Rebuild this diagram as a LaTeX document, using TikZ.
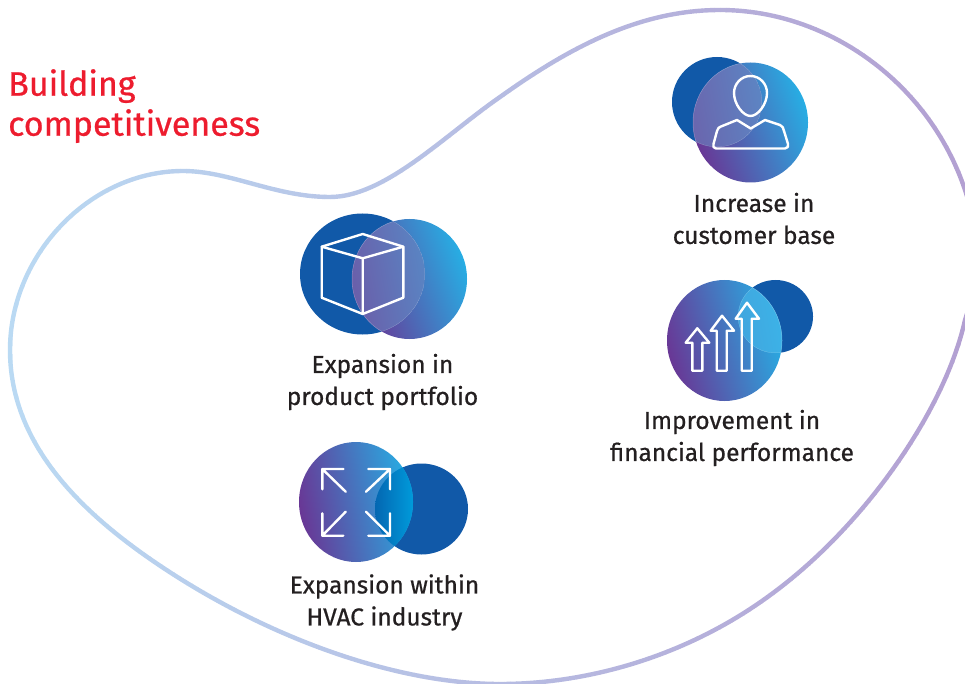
\documentclass[tikz,border=0pt]{standalone}
\usepackage{fontspec}
\setmainfont{Fira Sans}
\newfontfamily\labf{Fira Sans}[FakeBold=0.7]
\definecolor{dk}{HTML}{1159A8}
\definecolor{gp}{HTML}{693795}
\definecolor{gm}{HTML}{5A70B2}
\definecolor{gc}{HTML}{27AEE4}
\definecolor{redt}{HTML}{ED1C2E}
\definecolor{labt}{HTML}{231F20}
\definecolor{bl}{HTML}{BADAF3}
\definecolor{br}{HTML}{B3A0D2}
\definecolor{cubeL}{HTML}{6A5FAA}
\definecolor{cubeR}{HTML}{5198D0}
\definecolor{persL}{HTML}{6A66AE}
\definecolor{persR}{HTML}{5596CF}
\definecolor{arrL}{HTML}{4A90CE}
\definecolor{arrR}{HTML}{3CB2E7}
\definecolor{expL}{HTML}{0467B2}
\definecolor{expR}{HTML}{009BDB}
\tikzset{
 gradfill/.style={left color=gp,middle color=gm,right color=gc,shading angle=#1},
 icon/.style={draw=white,line width=2.4pt,line join=round,line cap=round},
 lab/.style={font=\labf\fontsize{24.5}{32}\selectfont,text=labt,align=center,inner sep=0pt},
 title/.style={font=\labf\fontsize{34}{40}\selectfont,text=redt,align=left,inner sep=0pt,anchor=north west},
 rim/.style={draw=white,draw opacity=.3,line width=.5pt}
}
\newcommand{\blobpath}{(10,350) .. controls (10,255) and (90,171) .. (183,171) .. controls (230,171) and (275,197) .. (330,197) .. controls (385,197) and (445,135) .. (500,97) .. controls (570,47) and (640,10) .. (720,10) .. controls (830,10) and (930,85) .. (965,190) .. controls (981,238) and (980,275) .. (965,320) .. controls (945,410) and (865,525) .. (773,593) .. controls (690,655) and (590,684) .. (500,684) .. controls (395,684) and (265,637) .. (156,563) .. controls (75,508) and (10,440) .. (10,350) -- cycle}
\begin{document}
\begin{tikzpicture}[x=1pt,y=-1pt]
\useasboundingbox (0,0) rectangle (965,684);
% blob with a horizontal colour ramp
\foreach \i in {0,6,...,960}{
 \pgfmathsetmacro{\p}{\i/9.65}
 \colorlet{cc}{br!\p!bl}
 \begin{scope}
  \clip (\i,0) rectangle (\i+6.4,684);
  \draw[cc,line width=4.4pt] \blobpath;
 \end{scope}
}
\node[title] (title) at (8,69) {Building\\competitiveness};
% cube
\fill[dk] (362.5,274) ellipse [x radius=62.5,y radius=60.5];
\shade[gradfill=110] (409.5,279) ellipse [x radius=57.5,y radius=60];
\begin{scope}
 \clip (362.5,274) ellipse [x radius=62.5,y radius=60.5];
 \shade[left color=cubeL,right color=cubeR,shading angle=100] (409.5,279) ellipse [x radius=57.5,y radius=60];
 \draw[rim] (409.5,279) ellipse [x radius=57.5,y radius=60];
 \begin{scope}
 \clip (409.5,279) ellipse [x radius=57.5,y radius=60];
 \draw[rim] (362.5,274) ellipse [x radius=62.5,y radius=60.5];
 \end{scope}
\end{scope}
\draw[icon] (362.7,234) -- (321.7,246.7) -- (321.7,297.7) -- (362.7,314) -- (403.3,297.7) -- (403.3,246.7) -- cycle;
\draw[icon] (321.7,246.7) -- (362.7,258.3) -- (403.3,246.7) (362.7,258.3) -- (362.7,314);
\node[lab] (l1) at (382.5,382) {Expansion in\\product portfolio};
% expand
\fill[dk] (421.5,509) ellipse [x radius=46.5,y radius=45.5];
\shade[gradfill=100] (356,502) ellipse [x radius=57,y radius=60];
\begin{scope}
 \clip (421.5,509) ellipse [x radius=46.5,y radius=45.5];
 \clip (356,502) ellipse [x radius=57,y radius=60];
 \shade[left color=expL,right color=expR,shading angle=90] (375,460) rectangle (413.5,560);
\end{scope}
\draw[icon] (343.3,469) -- (322.3,469) -- (322.3,489.3) (322.3,469) -- (345.7,491.7);
\draw[icon] (368.3,469) -- (390,469) -- (390,489.3) (390,469) -- (366,491.7);
\draw[icon] (343.3,535.7) -- (322.3,535.7) -- (322.3,513.3) (322.3,535.7) -- (345.7,511.7);
\draw[icon] (368.3,535.7) -- (390,535.7) -- (390,513.3) (390,535.7) -- (366,511.7);
\node[lab] (l2) at (384.5,602.5) {Expansion within\\HVAC industry};
% person
\fill[dk] (717,102) ellipse [x radius=45,y radius=45];
\shade[gradfill=110] (750.5,122.5) ellipse [x radius=57.5,y radius=60];
\begin{scope}
 \clip (717,102) ellipse [x radius=45,y radius=45];
 \shade[left color=persL,right color=persR,shading angle=100] (750.5,122.5) ellipse [x radius=57.5,y radius=60];
 \draw[rim] (750.5,122.5) ellipse [x radius=57.5,y radius=60];
 \begin{scope}
 \clip (750.5,122.5) ellipse [x radius=57.5,y radius=60];
 \draw[rim] (717,102) ellipse [x radius=45,y radius=45];
 \end{scope}
\end{scope}
\draw[icon] (750.5,76) .. controls (760,76) and (767,84) .. (767,93) .. controls (767,104) and (758,116) .. (750.5,116) .. controls (743,116) and (734,104) .. (734,93) .. controls (734,84) and (741,76) .. (750.5,76) -- cycle;
\draw[icon] (716,148.5) .. controls (713,148.5) and (713,146) .. (713.5,144) -- (717,131) .. controls (718,128) and (719,127) .. (721,126.5) -- (737,120) -- (750.7,128.5) -- (765,120) -- (780,125) .. controls (783,126) and (783,128) .. (784,131) -- (788,144) .. controls (788.5,146) and (788,148.5) .. (785,148.5) -- cycle;
\node[lab] (l3) at (754,218.5) {Increase in\\customer base};
% arrows
\fill[dk] (775.5,316.5) ellipse [x radius=37.5,y radius=36.5];
\shade[gradfill=105] (724.5,340.5) ellipse [x radius=57.5,y radius=60.5];
\begin{scope}
 \clip (775.5,316.5) ellipse [x radius=37.5,y radius=36.5];
 \shade[left color=arrL,right color=arrR,shading angle=100] (724.5,340.5) ellipse [x radius=57.5,y radius=60.5];
 \draw[rim] (724.5,340.5) ellipse [x radius=57.5,y radius=60.5];
 \begin{scope}
 \clip (724.5,340.5) ellipse [x radius=57.5,y radius=60.5];
 \draw[rim] (775.5,316.5) ellipse [x radius=37.5,y radius=36.5];
 \end{scope}
\end{scope}
\draw[icon] (692.3,370.7) -- (692.3,342.7) -- (685.7,342.7) -- (697.3,328.3) -- (709.3,342.7) -- (702.3,342.7) -- (702.3,370.7) -- cycle;
\draw[icon] (716.7,370.7) -- (716.7,330.7) -- (710.7,330.7) -- (722,315.7) -- (734,330.7) -- (726.7,330.7) -- (726.7,370.7) -- cycle;
\draw[icon] (741.7,370.7) -- (741.7,318.7) -- (735.7,318.7) -- (747,302.7) -- (759,318.7) -- (751.7,318.7) -- (751.7,370.7) -- cycle;
\node[lab] (l4) at (732,438) {Improvement in\\financial performance};
\end{tikzpicture}
\end{document}
